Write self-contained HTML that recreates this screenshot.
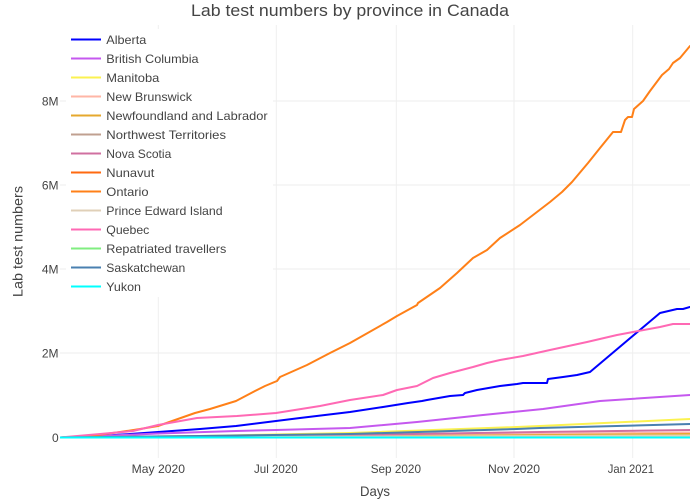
<!DOCTYPE html>
<html>
<head>
<meta charset="utf-8">
<style>
html,body{margin:0;padding:0;background:#fff;}
svg{display:block;}
text{font-family:"Liberation Sans",Arial,sans-serif;fill:#444;}
</style>
</head>
<body>
<svg width="700" height="500" viewBox="0 0 700 500" xmlns="http://www.w3.org/2000/svg">
<defs>
<clipPath id="pc"><rect x="60" y="25" width="630" height="433"/></clipPath>
</defs>
<rect x="0" y="0" width="700" height="500" fill="#fff"/>
<!-- grid -->
<g stroke="#eeeeee" stroke-width="1">
<line x1="158.3" y1="25" x2="158.3" y2="458"/>
<line x1="276.3" y1="25" x2="276.3" y2="458"/>
<line x1="396.3" y1="25" x2="396.3" y2="458"/>
<line x1="514" y1="25" x2="514" y2="458"/>
<line x1="632.7" y1="25" x2="632.7" y2="458"/>
<line x1="60" y1="353" x2="690" y2="353"/>
<line x1="60" y1="269" x2="690" y2="269"/>
<line x1="60" y1="185" x2="690" y2="185"/>
<line x1="60" y1="101" x2="690" y2="101"/>
</g>
<line x1="60" y1="437.5" x2="690" y2="437.5" stroke="#444" stroke-width="1"/>
<!-- series -->
<g clip-path="url(#pc)" fill="none" stroke-width="2" stroke-linejoin="round" stroke-linecap="round">
<polyline stroke="#0000ff" points="60,437.5 100,436 130,434 158,432 200,429 236,426 276,421 300,418 350,412 383,407 408,403 422,401 427,400 450,396 463,395 465,393 477,390 500,386 517,384 523,383 547,383 548,379 563,377 577,375 590,372 660,313 677,309 683,309 690,307"/>
<polyline stroke="#c558ef" points="60,437.5 100,436 158,433.5 236,431 276,430 350,428 417,422 483,415 543,409 600,401 690,395"/>
<polyline stroke="#fbf250" points="60,437.5 200,436 350,433 517,427 540,426 690,419"/>
<polyline stroke="#ffb6a6" points="60,437.5 350,436 690,432.5"/>
<polyline stroke="#e6a82e" points="60,437.5 350,436.5 690,434"/>
<polyline stroke="#c0a090" points="60,437.5 690,436.5"/>
<polyline stroke="#d070a0" points="60,437.5 350,435 540,432 690,430"/>
<polyline stroke="#ff6a10" points="60,437.5 690,437.3"/>
<polyline stroke="#ff8018" points="60,437.5 90,436 120,432 140,429 158,426 175,420 195,413 210,409 236,401 255,391 265,386 277,381 280,377 307,365 330,353 350,343 387,322 397,316 417,305 418,303 440,288 457,273 473,258 487,250 500,238 520,225 550,202 562,192 572,182 588,163 600,148 613,132 621,132 625,120 628,117 632,117 634,109 643,101 650,91 662,75 669,69 673,63 680,58 690,46"/>
<polyline stroke="#e0d0b8" points="60,437.5 690,435.5"/>
<polyline stroke="#ff69b4" points="60,437.5 100,434 133,431 158,425 197,418 237,416 276,413 320,406 350,400 383,395 397,390 417,386 433,378 450,373 473,367 487,363 500,360 523,356 550,350 587,342 617,335 633,332 660,327 673,324 690,324"/>
<polyline stroke="#80ee80" points="60,437.5 690,437.5"/>
<polyline stroke="#4a80b0" points="60,437.5 200,436 350,434 517,429 540,428 690,424"/>
<polyline stroke="#00ffff" points="60,437.5 690,437.5"/>
</g>
<!-- legend -->
<rect x="66" y="29" width="207" height="268" fill="#fff"/>
<g stroke-width="2">
<line x1="71" y1="39.5" x2="101" y2="39.5" stroke="#0000ff"/>
<line x1="71" y1="58.5" x2="101" y2="58.5" stroke="#c558ef"/>
<line x1="71" y1="77.5" x2="101" y2="77.5" stroke="#fbf250"/>
<line x1="71" y1="96.5" x2="101" y2="96.5" stroke="#ffb6a6"/>
<line x1="71" y1="115.5" x2="101" y2="115.5" stroke="#e6a82e"/>
<line x1="71" y1="134.5" x2="101" y2="134.5" stroke="#c0a090"/>
<line x1="71" y1="153.5" x2="101" y2="153.5" stroke="#d070a0"/>
<line x1="71" y1="172.5" x2="101" y2="172.5" stroke="#ff6a10"/>
<line x1="71" y1="191.5" x2="101" y2="191.5" stroke="#ff8018"/>
<line x1="71" y1="210.5" x2="101" y2="210.5" stroke="#e0d0b8"/>
<line x1="71" y1="229.5" x2="101" y2="229.5" stroke="#ff69b4"/>
<line x1="71" y1="248.5" x2="101" y2="248.5" stroke="#80ee80"/>
<line x1="71" y1="267.5" x2="101" y2="267.5" stroke="#4a80b0"/>
<line x1="71" y1="286.5" x2="101" y2="286.5" stroke="#00ffff"/>
</g>
<g font-size="12" lengthAdjust="spacingAndGlyphs">
<text x="106.3" y="44.2" textLength="40" lengthAdjust="spacingAndGlyphs">Alberta</text>
<text x="106.3" y="63.2" textLength="92.3" lengthAdjust="spacingAndGlyphs">British Columbia</text>
<text x="106.3" y="82.2" textLength="53" lengthAdjust="spacingAndGlyphs">Manitoba</text>
<text x="106.3" y="101.2" textLength="85.7" lengthAdjust="spacingAndGlyphs">New Brunswick</text>
<text x="106.3" y="120.2" textLength="161.3" lengthAdjust="spacingAndGlyphs">Newfoundland and Labrador</text>
<text x="106.3" y="139.2" textLength="119.7" lengthAdjust="spacingAndGlyphs">Northwest Territories</text>
<text x="106.3" y="158.2" textLength="65" lengthAdjust="spacingAndGlyphs">Nova Scotia</text>
<text x="106.3" y="177.2" textLength="48" lengthAdjust="spacingAndGlyphs">Nunavut</text>
<text x="106.3" y="196.2" textLength="42.3" lengthAdjust="spacingAndGlyphs">Ontario</text>
<text x="106.3" y="215.2" textLength="116.3" lengthAdjust="spacingAndGlyphs">Prince Edward Island</text>
<text x="106.3" y="234.2" textLength="43" lengthAdjust="spacingAndGlyphs">Quebec</text>
<text x="106.3" y="253.2" textLength="120" lengthAdjust="spacingAndGlyphs">Repatriated travellers</text>
<text x="106.3" y="272.2" textLength="79" lengthAdjust="spacingAndGlyphs">Saskatchewan</text>
<text x="106.3" y="291.2" textLength="34.7" lengthAdjust="spacingAndGlyphs">Yukon</text>
</g>
<!-- y ticks -->
<g font-size="12" text-anchor="end">
<text x="58.7" y="442">0</text>
<text x="58.5" y="357.5">2M</text>
<text x="58.5" y="273.5">4M</text>
<text x="58.5" y="189.5">6M</text>
<text x="58.5" y="105.5">8M</text>
</g>
<!-- x ticks -->
<g font-size="12">
<text x="131.7" y="473" textLength="53.3" lengthAdjust="spacingAndGlyphs">May 2020</text>
<text x="254" y="473" textLength="43.7" lengthAdjust="spacingAndGlyphs">Jul 2020</text>
<text x="370.7" y="473" textLength="50.3" lengthAdjust="spacingAndGlyphs">Sep 2020</text>
<text x="488" y="473" textLength="52" lengthAdjust="spacingAndGlyphs">Nov 2020</text>
<text x="607.7" y="473" textLength="46.3" lengthAdjust="spacingAndGlyphs">Jan 2021</text>
</g>
<!-- titles -->
<text x="191" y="16" font-size="17" textLength="318" lengthAdjust="spacingAndGlyphs">Lab test numbers by province in Canada</text>
<text x="360" y="496" font-size="14" textLength="30" lengthAdjust="spacingAndGlyphs">Days</text>
<text transform="translate(22.5,297) rotate(-90)" x="0" y="0" font-size="14" textLength="111" lengthAdjust="spacingAndGlyphs">Lab test numbers</text>
</svg>
</body>
</html>
